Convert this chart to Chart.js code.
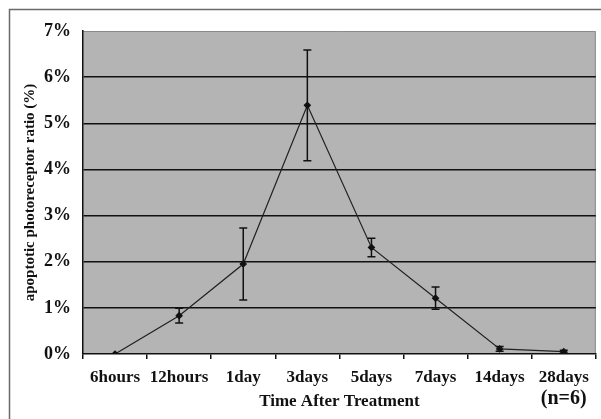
<!DOCTYPE html>
<html>
<head>
<meta charset="utf-8">
<script src="https://cdn.jsdelivr.net/npm/chart.js@4"></script>
<style>
  html, body { margin: 0; padding: 0; background: #fff; }
  #wrap { width: 601px; height: 419px; }
</style>
</head>
<body>
<div id="wrap"><canvas id="ratioChart" width="601" height="419"></canvas></div>
<script>
// Data
const timepoints = ['6hours', '12hours', '1day', '3days', '5days', '7days', '14days', '28days'];
const ratioMean = [0, 0.83, 1.95, 5.39, 2.31, 1.21, 0.11, 0.05];
const ratioErr = [0, 0.16, 0.78, 1.2, 0.2, 0.24, 0.05, 0.03];
const yTicks = [0, 1, 2, 3, 4, 5, 6, 7];

const serif = '"Liberation Serif", "Times New Roman", serif';

// grey plot panel + outer frame
const panel = {
    id: 'panel',
    beforeDraw(chart) {
        const { ctx, chartArea: a } = chart;
        ctx.save();
        ctx.fillStyle = '#fff';
        ctx.fillRect(0, 0, chart.width, chart.height);
        ctx.strokeStyle = '#6a6a6a';
        ctx.lineWidth = 1.5;
        ctx.beginPath();
        ctx.moveTo(9.5, chart.height);
        ctx.lineTo(9.5, 9.5);
        ctx.lineTo(chart.width, 9.5);
        ctx.stroke();
        ctx.fillStyle = '#b4b4b4';
        ctx.fillRect(a.left, a.top, a.right - a.left, a.bottom - a.top);
        ctx.strokeStyle = '#8a8a8a';
        ctx.lineWidth = 1;
        ctx.beginPath();
        ctx.moveTo(a.left, a.top + 0.5);
        ctx.lineTo(a.right - 0.5, a.top + 0.5);
        ctx.lineTo(a.right - 0.5, a.bottom);
        ctx.stroke();
        ctx.restore();
    }
};

// vertical error bars
const errorBars = {
    id: 'errorBars',
    afterDatasetsDraw(chart) {
        const { ctx, scales: { x, y } } = chart;
        ctx.save();
        ctx.strokeStyle = '#111';
        ctx.lineWidth = 1.5;
        ratioMean.forEach((m, i) => {
            const e = ratioErr[i];
            if (!e) return;
            const px = x.getPixelForValue(i);
            const top = y.getPixelForValue(m + e);
            const bot = y.getPixelForValue(m - e);
            ctx.beginPath();
            ctx.moveTo(px, top); ctx.lineTo(px, bot);
            ctx.moveTo(px - 4, top); ctx.lineTo(px + 4, top);
            ctx.moveTo(px - 4, bot); ctx.lineTo(px + 4, bot);
            ctx.stroke();
        });
        ctx.restore();
    }
};

// sample size note
const nNote = {
    id: 'nNote',
    afterDraw(chart) {
        const { ctx } = chart;
        const px = chart.scales.x.getPixelForValue(timepoints.length - 1);
        ctx.save();
        ctx.font = 'bold 20px ' + serif;
        ctx.fillStyle = '#111';
        ctx.textAlign = 'center';
        ctx.textBaseline = 'middle';
        ctx.fillText('(n=6)', px, 399);
        ctx.restore();
    }
};

new Chart(document.getElementById('ratioChart'), {
    type: 'line',
    data: {
        labels: timepoints,
        datasets: [{
            data: ratioMean,
            borderColor: '#222',
            borderWidth: 1.2,
            pointStyle: 'rectRot',
            pointRadius: 3,
            pointBackgroundColor: '#111',
            pointBorderColor: '#111',
            tension: 0
        }]
    },
    options: {
        responsive: false,
        animation: false,
        layout: { padding: { top: 31, right: 4, left: 0, bottom: 0 } },
        plugins: { legend: { display: false }, tooltip: { enabled: false } },
        scales: {
            x: {
                offset: true,
                afterFit: s => { s.height = 65; },
                border: { color: '#111', width: 1.5 },
                grid: { drawOnChartArea: false, offset: true, tickLength: 5, color: '#111', lineWidth: 1.5 },
                ticks: { color: '#111', font: { family: serif, weight: 'bold', size: 17 }, padding: 8, maxRotation: 0, autoSkip: false },
                title: {
                    display: true,
                    text: 'Time After Treatment',
                    color: '#111',
                    font: { family: serif, weight: 'bold', size: 17 },
                    padding: { top: 0, bottom: 7 }
                }
            },
            y: {
                min: 0,
                max: 7,
                afterFit: s => { s.width = 83; },
                afterBuildTicks: s => { s.ticks = yTicks.map(v => ({ value: v })); },
                border: { color: '#111', width: 1.5 },
                grid: {
                    drawTicks: false,
                    color: ctx => ctx.tick && (ctx.tick.value === 0 || ctx.tick.value === 7) ? 'rgba(0,0,0,0)' : '#111',
                    lineWidth: 1.5
                },
                ticks: {
                    color: '#111',
                    padding: 12,
                    font: { family: serif, weight: 'bold', size: 18 },
                    callback: v => v + '%'
                },
                title: {
                    display: true,
                    text: 'apoptotic photoreceptor ratio (%)',
                    color: '#111',
                    font: { family: serif, weight: 'bold', size: 15 },
                    padding: { top: 21, bottom: 0 }
                }
            }
        }
    },
    plugins: [panel, errorBars, nNote]
});
</script>
</body>
</html>
